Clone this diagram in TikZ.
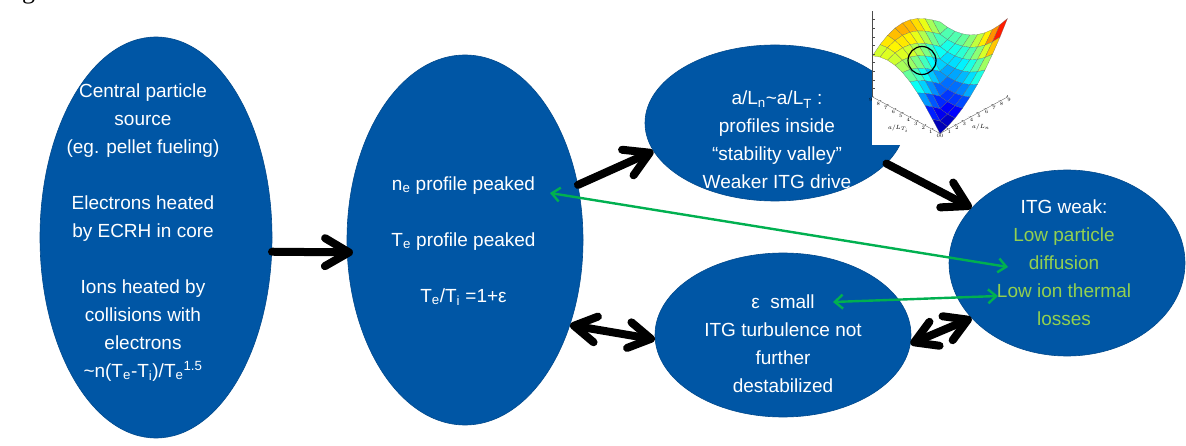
\documentclass[tikz,border=0pt]{standalone}
\usepackage{fontspec}
\setmainfont{Liberation Sans}
\newfontfamily\gserif{Liberation Serif}
\usepackage{pgfplots}
\pgfplotsset{compat=1.18}
\usetikzlibrary{shapes.geometric,arrows.meta,calc}
\definecolor{ellblue}{RGB}{0,86,165}
\definecolor{arrgreen}{RGB}{0,176,80}
\definecolor{txtgreen}{RGB}{146,208,80}
\begin{document}
\begin{tikzpicture}[x=1pt,y=1pt,
  bubble/.style={ellipse, fill=ellblue, draw=ellblue!85!black, line width=0.6pt, inner sep=0pt},
  txt/.style={text=white, align=center, font=\fontsize{19}{28}\selectfont, anchor=base, inner sep=0pt},
  bigarrow/.style={line width=8pt, line cap=round, -{Straight Barb[length=24pt,width=28pt,round]}},
  bigdouble/.style={line width=8pt, line cap=round, {Straight Barb[length=22pt,width=26pt,round]}-{Straight Barb[length=22pt,width=26pt,round]}},
  greenarrow/.style={arrgreen, line width=2.4pt, {Straight Barb[length=8pt,width=14pt]}-{Straight Barb[length=8pt,width=14pt]}},
]
\useasboundingbox (0,0) rectangle (1186,445);
\clip (0,0) rectangle (1186,445);
\fill[white] (0,0) rectangle (1186,445);

% cut-off text fragment at top
\node[font=\gserif\fontsize{26}{26}\selectfont, anchor=base west, inner sep=0pt] (gfrag) at (22,446) {g};

% ellipses
\node[bubble, minimum width=232pt, minimum height=401pt] (e1) at (156,207.5) {};
\node[bubble, minimum width=236pt, minimum height=370pt] (e2) at (465,205) {};
\node[bubble, minimum width=260pt, minimum height=156pt] (e3) at (775,322) {};
\node[bubble, minimum width=256pt, minimum height=164pt] (e4) at (783,110) {};
\node[bubble, minimum width=236pt, minimum height=186pt] (e5) at (1067,182) {};

% inset plot
\node[fill=white, inner sep=0pt, minimum width=186pt, minimum height=145pt, anchor=north west] (inset) at (872,445) {};
\begin{axis}[at={(940pt,391pt)}, anchor=center, scale only axis, width=135pt, height=159pt,
  view={-45}{31}, colormap/jet, xmin=0, xmax=9, ymin=0, ymax=9, zmin=0, zmax=10,
  axis lines*=left, z axis line style={draw=none}, ztick=\empty,
  xtick={0,...,9}, ytick={0,...,9}, major tick length=1.5pt,
  tick label style={font=\fontsize{5.5}{6}\selectfont, inner sep=0.6pt},
  axis line style={black!70, line width=0.3pt},
  xlabel={$a/L_n$}, ylabel={$a/L_{T_i}$},
  label style={font=\fontsize{6}{6}\selectfont, inner sep=0.5pt},
  clip=false]
\addplot3[surf, shader=faceted, faceted color=black!60, line width=0.15pt,
  samples=10, domain=0:9, y domain=0:9]
  {0.25*(x+y) + (x>=y)*0.085*(x-y)^2 + (x<y)*3.6*sin(15*(y-x))};
\draw[black!70, line width=0.3pt] (axis cs:0,9,0) -- (axis cs:0,9,10);
\pgfplotsinvokeforeach{1,...,9}{\draw[black!70, line width=0.3pt] (axis cs:0,9,#1) -- ++(2pt,0pt);}
\coordinate (circ) at (axis cs:4.3,6.7,3.3);
\end{axis}
\draw[black, line width=1.2pt] (circ) circle[radius=14];

% texts (anchor = baseline of the last line)
\node[txt] (t1) at (143,68) {Central particle\\source\\(eg. pellet fueling)\\[28pt]Electrons heated\\by ECRH in core\\[28pt]Ions heated by\\collisions with\\electrons\\\textasciitilde n(T\textsubscript{e}-T\textsubscript{i})/T\textsubscript{e}\textsuperscript{1.5}};
\node[txt] (t2) at (463.5,143) {n\textsubscript{e} profile peaked\\[28pt]T\textsubscript{e} profile peaked\\[28pt]T\textsubscript{e}/T\textsubscript{i} =1+ε};
\node[txt] (t3) at (777,256) {a/L\textsubscript{n}\textasciitilde a/L\textsubscript{T} :\\profiles inside\\“stability valley”\\Weaker ITG drive};
\node[txt] (t4) at (783,53) {ε\ \ small\\ITG turbulence not\\further\\destabilized};
\node[txt] (t5) at (1064,120) {ITG weak:\\\textcolor{txtgreen}{Low particle}\\\textcolor{txtgreen}{diffusion}\\\textcolor{txtgreen}{Low ion thermal}\\\textcolor{txtgreen}{losses}};

% green connectors
\coordinate (g1a) at (550,252);
\coordinate (g1b) at (1008,178);
\coordinate (g2a) at (833,143);
\coordinate (g2b) at (998,149);
\draw[greenarrow] (g1a) -- (g1b);
\draw[greenarrow] (g2a) -- (g2b);

% black connectors
\draw[bigarrow] (e1.-7) -- ($(e2.186)+(6,0)$);
\draw[bigarrow] (e2.26) -- (e3.193);
\draw[bigarrow] (e3.-20) -- (e5.150);
\draw[bigdouble] (e2.-39) -- (e4.182);
\draw[bigdouble] (e4.-4) -- (e5.210);
\end{tikzpicture}
\end{document}
